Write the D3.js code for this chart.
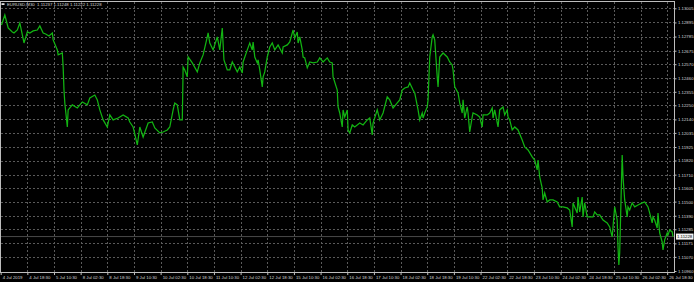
<!DOCTYPE html>
<html>
<head>
<meta charset="utf-8">
<script src="https://cdn.jsdelivr.net/npm/d3@7"></script>
<style>
  html, body { margin: 0; padding: 0; background: #000; }
  svg { display: block; }
  text { font-family: "Liberation Sans", Arial, sans-serif; }
</style>
</head>
<body>
<svg id="chart" width="694" height="282"></svg>
<script>
// ---- data (30-minute bar index from chart start, close price) ----
const symbolTitle = "EURUSD,M30  1.11237 1.11248 1.11222 1.11228";
const lastPriceLabel = "1.11228";

const bars = [1,5,9,14,16,20,23,26,28,32,35,39,44,47,51,54,58,62,63,68,69,74,75,76,77,80,81,86,92,98,104,107,113,116,119,123,128,131,135,141,147,153,155,159,164,167,171,177,182,185,191,195,200,203,207,209,212,215,218,219,221,224,225,230,236,239,243,248,249,251,255,260,263,266,268,272,275,278,284,287,290,291,296,299,302,303,305,308,309,311,314,315,317,320,323,326,329,333,338,339,344,347,351,353,356,357,359,362,363,365,368,371,375,380,383,387,392,395,398,399,404,405,407,410,411,413,416,417,419,422,425,431,435,440,443,446,447,452,455,459,464,467,471,476,479,482,485,489,491,495,497,501,503,506,507,509,512,513,515,518,519,521,524,525,527,531,536,539,542,543,545,549,551,554,555,557,560,561,563,566,567,572,575,578,579,584,587,590,591,593,597,599,603,605,608,609,611,614,617,621,626,629,633,638,641,644,645,647,650,651,653,656,659,663,668,671,675,680,683,686,687,692,693,695,698,699,701,704,707,711,713,716,719,723,728,731,734,735,737,740,741,742,743,745,746,747,749,752,753,755,758,761,765,770,773,777,779,782,783,785,788,789,791,794,795,797,800,801,803,806,807];

const closes = [1.12875,1.12953,1.12852,1.12821,1.12813,1.12836,1.12891,1.12798,1.12735,1.12821,1.12813,1.12829,1.12836,1.12868,1.12813,1.12805,1.12790,1.12813,1.12759,1.12681,1.12642,1.12657,1.12548,1.12369,1.12268,1.12081,1.12214,1.12253,1.12229,1.12276,1.12253,1.12307,1.12330,1.12292,1.12214,1.12136,1.12081,1.12175,1.12136,1.12151,1.12175,1.12151,1.12120,1.12081,1.11941,1.12081,1.12003,1.12112,1.12120,1.12074,1.12035,1.12042,1.12058,1.12081,1.12214,1.12268,1.12253,1.12136,1.12136,1.12548,1.12525,1.12471,1.12626,1.12580,1.12510,1.12580,1.12642,1.12782,1.12813,1.12735,1.12681,1.12782,1.12681,1.12852,1.12603,1.12525,1.12525,1.12587,1.12510,1.12548,1.12502,1.12587,1.12681,1.12735,1.12681,1.12743,1.12626,1.12580,1.12603,1.12525,1.12393,1.12471,1.12510,1.12626,1.12704,1.12735,1.12681,1.12720,1.12657,1.12704,1.12720,1.12743,1.12836,1.12774,1.12821,1.12735,1.12782,1.12681,1.12626,1.12619,1.12541,1.12587,1.12580,1.12587,1.12619,1.12587,1.12619,1.12587,1.12580,1.12471,1.12369,1.12237,1.12190,1.12081,1.12214,1.12159,1.12214,1.12058,1.12035,1.12097,1.12081,1.12112,1.12097,1.12136,1.12151,1.12019,1.12112,1.12214,1.12136,1.12190,1.12315,1.12292,1.12229,1.12268,1.12292,1.12369,1.12385,1.12393,1.12424,1.12369,1.12346,1.12214,1.12136,1.12190,1.12151,1.12190,1.12237,1.12292,1.12626,1.12782,1.12798,1.12759,1.12471,1.12393,1.12626,1.12657,1.12626,1.12587,1.12564,1.12525,1.12393,1.12346,1.12268,1.12190,1.12292,1.12151,1.12237,1.12190,1.12042,1.12159,1.12190,1.12175,1.12159,1.12081,1.12175,1.12175,1.12190,1.12229,1.12151,1.12214,1.12081,1.12214,1.12237,1.12175,1.12214,1.12159,1.12136,1.12058,1.12081,1.12058,1.11980,1.11926,1.11902,1.11848,1.11824,1.11747,1.11824,1.11692,1.11606,1.11513,1.11567,1.11497,1.11513,1.11513,1.11497,1.11459,1.11459,1.11451,1.11435,1.11303,1.11490,1.11412,1.11536,1.11420,1.11536,1.11381,1.11490,1.11381,1.11381,1.11381,1.11420,1.11396,1.11396,1.11357,1.11334,1.11303,1.11225,1.11303,1.11459,1.11357,1.11147,1.11007,1.11100,1.11614,1.11863,1.11692,1.11513,1.11381,1.11459,1.11435,1.11490,1.11459,1.11474,1.11490,1.11497,1.11459,1.11412,1.11334,1.11381,1.11357,1.11295,1.11412,1.11256,1.11186,1.11124,1.11202,1.11256,1.11241,1.11279,1.11264,1.11228];

const priceTicks = [1.13005,1.12895,1.12785,1.12675,1.12570,1.12460,1.12355,1.12250,1.12140,1.12035,1.11925,1.11820,1.11710,1.11605,1.11500,1.11390,1.11285,1.11175,1.11070,1.10960];

const timeTickBars = [0,32,64,96,128,160,192,224,256,288,320,352,384,416,448,480,512,544,576,608,640,672,704,736,768,800];
const timeTickLabels = ["4 Jul 2019","4 Jul 18:30","5 Jul 10:30","8 Jul 02:30","8 Jul 18:30","9 Jul 10:30","10 Jul 02:30","10 Jul 18:30","11 Jul 10:30","12 Jul 02:30","12 Jul 18:30","15 Jul 10:30","16 Jul 02:30","16 Jul 18:30","17 Jul 10:30","18 Jul 02:30","18 Jul 18:30","19 Jul 10:30","22 Jul 02:30","22 Jul 18:30","23 Jul 10:30","24 Jul 02:30","24 Jul 18:30","25 Jul 10:30","26 Jul 02:30","26 Jul 18:30"];

// ---- layout ----
const W = 694, H = 282;
const plotLeft = 0.5, plotRight = 674.5, plotTop = 1.5, plotBottom = 272.5;

const svg = d3.select("#chart");
svg.append("rect").attr("width", W).attr("height", H).attr("fill", "#000");

const x = d3.scaleLinear().domain([0, 32]).range([0.67, 27.33]);
const y = d3.scaleLinear().domain([1.10960, 1.13005]).range([271, 8.3]);

const fontSize = 4.3;

// grid (via axes)
const gx = svg.append("g").attr("transform", `translate(0,${plotTop})`)
  .call(d3.axisBottom(x).tickValues(timeTickBars.slice(1)).tickSize(plotBottom - plotTop).tickFormat(""));
gx.select(".domain").remove();
gx.selectAll("line").attr("stroke", "#5a5a5a").attr("stroke-dasharray", "2,2").attr("stroke-width", 1)
  .attr("shape-rendering", "crispEdges");

const gy = svg.append("g").attr("transform", `translate(${plotLeft},0)`)
  .call(d3.axisRight(y).tickValues(priceTicks.slice(0, -1)).tickSize(plotRight - plotLeft).tickFormat(""));
gy.select(".domain").remove();
gy.selectAll("line").attr("stroke", "#5a5a5a").attr("stroke-dasharray", "2,2").attr("stroke-width", 1)
  .attr("shape-rendering", "crispEdges");

// bid line
const last = closes[closes.length - 1];
svg.append("line")
  .attr("x1", plotLeft).attr("x2", plotRight)
  .attr("y1", y(last)).attr("y2", y(last))
  .attr("stroke", "#4a4a4a").attr("stroke-width", 1);

// price line
svg.append("clipPath").attr("id", "clip")
  .append("rect").attr("x", plotLeft).attr("y", plotTop).attr("width", plotRight - plotLeft).attr("height", plotBottom - plotTop);

const line = d3.line().x((d, i) => x(bars[i])).y(d => y(d));
svg.append("path")
  .datum(closes)
  .attr("clip-path", "url(#clip)")
  .attr("d", line)
  .attr("fill", "none")
  .attr("stroke", "#12b412")
  .attr("stroke-width", 1.25)
  .attr("stroke-linejoin", "miter");

// frame
svg.append("rect")
  .attr("x", plotLeft).attr("y", plotTop)
  .attr("width", plotRight - plotLeft).attr("height", plotBottom - plotTop)
  .attr("fill", "none").attr("stroke", "#bdbdbd").attr("stroke-width", 1)
  .attr("shape-rendering", "crispEdges");

// right price axis
const ay = svg.append("g").attr("transform", `translate(${plotRight},0)`)
  .call(d3.axisRight(y).tickValues(priceTicks).tickSize(2).tickPadding(1.5).tickFormat(d3.format(".5f")));
ay.select(".domain").remove();
ay.selectAll("line").attr("stroke", "#bdbdbd");
ay.selectAll("text").attr("fill", "#d8d8d8").attr("font-size", fontSize).attr("font-family", "Liberation Sans, Arial, sans-serif");

// bottom time axis
const ax = svg.append("g").attr("transform", `translate(0,${plotBottom})`)
  .call(d3.axisBottom(x).tickValues(timeTickBars).tickSize(2.5).tickPadding(1)
    .tickFormat((d, i) => timeTickLabels[i]));
ax.select(".domain").remove();
ax.selectAll("line").attr("stroke", "#bdbdbd");
ax.selectAll("text").attr("fill", "#d8d8d8").attr("font-size", fontSize)
  .attr("font-family", "Liberation Sans, Arial, sans-serif")
  .attr("text-anchor", "start").attr("dx", 1.5);

// current price box
const boxY = y(last);
svg.append("rect").attr("x", plotRight + 1.5).attr("y", boxY - 3).attr("width", 17.5).attr("height", 6)
  .attr("fill", "#f2f2f2");
svg.append("text").attr("x", plotRight + 2.5).attr("y", boxY + 1.5)
  .attr("font-size", fontSize).attr("fill", "#000").text(lastPriceLabel);

// header
svg.append("rect").attr("x", 1.5).attr("y", 3.2).attr("width", 3).attr("height", 1.8).attr("fill", "#e0e0e0");
svg.append("text").attr("x", 7).attr("y", 5.6).attr("font-size", fontSize).attr("fill", "#d8d8d8")
  .attr("xml:space", "preserve").text(symbolTitle);
</script>
</body>
</html>
